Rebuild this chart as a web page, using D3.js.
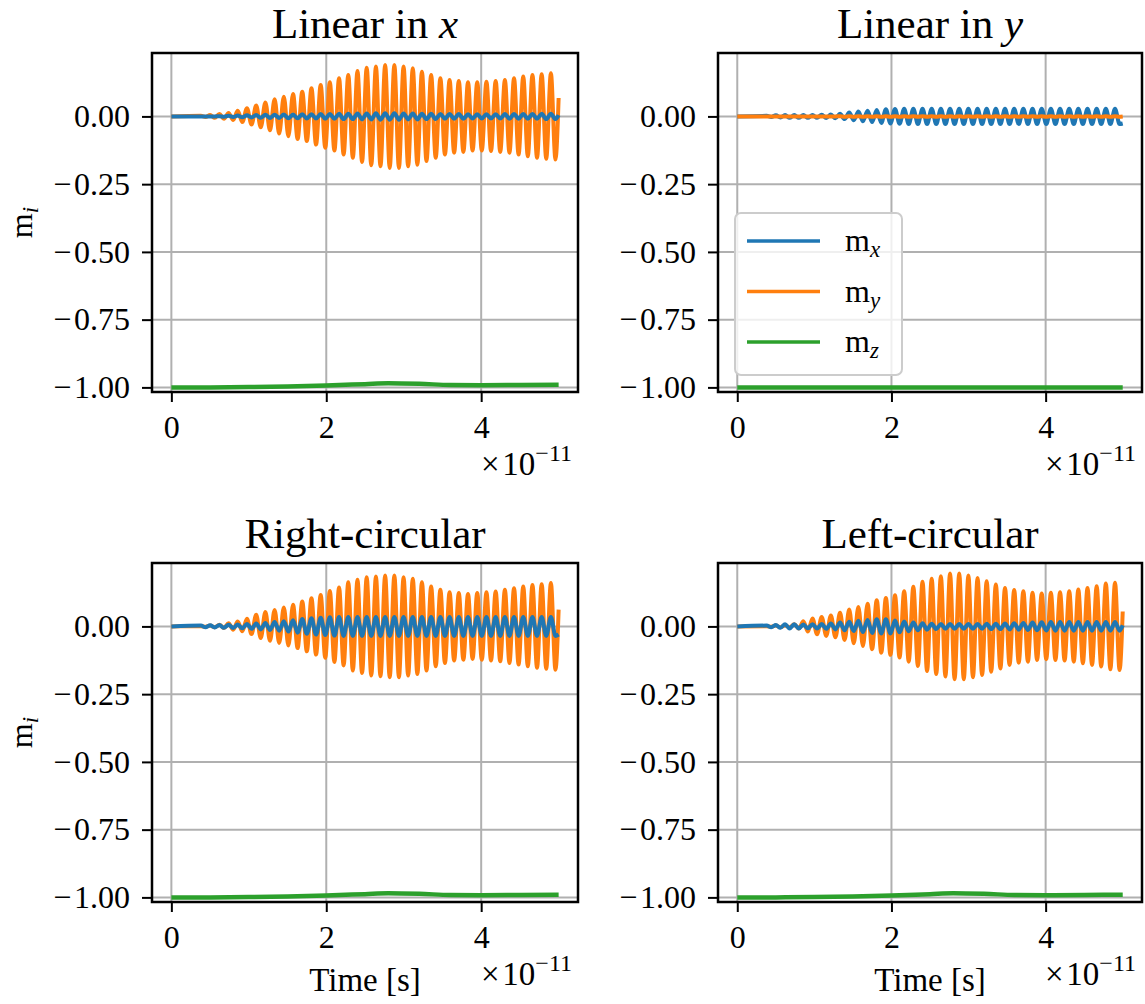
<!DOCTYPE html>
<html>
<head>
<meta charset="utf-8">
<script src="https://cdn.jsdelivr.net/npm/d3@7"></script>
<style>
  body { margin: 0; background: #fff; }
  svg text { font-family: "Liberation Serif", "DejaVu Serif", serif; fill: #000; }
</style>
</head>
<body>
<div id="chart"></div>
<script>
// Tick values (time in units of 1e-11 s)
const xTicks = [0, 2, 4];
const yTicks = [0, -0.25, -0.5, -0.75, -1];

// Times of the oscillation peaks and troughs (x 1e-11 s)
const peakTimes = [0.382, 0.501, 0.620, 0.739, 0.857, 0.976, 1.095, 1.214, 1.333, 1.452,
  1.571, 1.690, 1.809, 1.928, 2.046, 2.165, 2.284, 2.403, 2.522, 2.641,
  2.760, 2.879, 2.998, 3.117, 3.235, 3.354, 3.473, 3.592, 3.711, 3.830,
  3.949, 4.068, 4.187, 4.306, 4.424, 4.543, 4.662, 4.781, 4.900];
const troughTimes = [0.441, 0.560, 0.679, 0.798, 0.916, 1.035, 1.154, 1.273, 1.392, 1.511,
  1.630, 1.749, 1.868, 1.987, 2.105, 2.224, 2.343, 2.462, 2.581, 2.700,
  2.819, 2.938, 3.057, 3.176, 3.294, 3.413, 3.532, 3.651, 3.770, 3.889,
  4.008, 4.127, 4.246, 4.365, 4.483, 4.602, 4.721, 4.840, 4.959];
const endTime = 5.0;

// Amplitude of m_x / m_y at each peak, one array per panel
const mxLinX = [0.000, 0.000, 0.001, 0.002, 0.003, 0.004, 0.005, 0.006, 0.006, 0.007,
  0.007, 0.008, 0.008, 0.009, 0.009, 0.010, 0.010, 0.011, 0.011, 0.012,
  0.012, 0.012, 0.011, 0.011, 0.010, 0.010, 0.009, 0.009, 0.009, 0.008,
  0.008, 0.008, 0.008, 0.009, 0.009, 0.009, 0.009, 0.010, 0.010];
const myLinX = [0.002, 0.005, 0.009, 0.013, 0.021, 0.030, 0.040, 0.051, 0.063, 0.073,
  0.083, 0.091, 0.104, 0.116, 0.126, 0.141, 0.153, 0.168, 0.180, 0.184,
  0.190, 0.190, 0.184, 0.178, 0.165, 0.153, 0.141, 0.134, 0.131, 0.126,
  0.126, 0.128, 0.131, 0.134, 0.141, 0.147, 0.153, 0.156, 0.159];
const mxLinY = [0.002, 0.004, 0.005, 0.005, 0.005, 0.005, 0.006, 0.007, 0.010, 0.014,
  0.018, 0.021, 0.024, 0.026, 0.027, 0.028, 0.028, 0.028, 0.028, 0.028,
  0.028, 0.028, 0.028, 0.028, 0.028, 0.028, 0.028, 0.028, 0.028, 0.028,
  0.028, 0.028, 0.028, 0.028, 0.028, 0.028, 0.028, 0.028, 0.028];
const myLinY = [0.000, 0.000, 0.000, 0.000, 0.000, 0.000, 0.000, 0.000, 0.001, 0.001,
  0.001, 0.001, 0.001, 0.001, 0.001, 0.001, 0.001, 0.001, 0.001, 0.001,
  0.001, 0.001, 0.001, 0.001, 0.001, 0.001, 0.001, 0.001, 0.001, 0.001,
  0.001, 0.001, 0.001, 0.001, 0.001, 0.001, 0.001, 0.001, 0.001];
const mxRight = [0.003, 0.004, 0.005, 0.006, 0.007, 0.009, 0.011, 0.013, 0.016, 0.019,
  0.023, 0.027, 0.030, 0.032, 0.034, 0.035, 0.035, 0.035, 0.035, 0.035,
  0.035, 0.035, 0.035, 0.035, 0.035, 0.035, 0.035, 0.035, 0.035, 0.035,
  0.035, 0.035, 0.035, 0.035, 0.035, 0.035, 0.035, 0.035, 0.035];
const myRight = [0.001, 0.003, 0.006, 0.012, 0.018, 0.028, 0.043, 0.053, 0.061, 0.070,
  0.080, 0.092, 0.104, 0.116, 0.131, 0.144, 0.163, 0.172, 0.181, 0.184,
  0.188, 0.188, 0.181, 0.176, 0.163, 0.147, 0.135, 0.126, 0.123, 0.120,
  0.123, 0.126, 0.129, 0.135, 0.141, 0.147, 0.153, 0.156, 0.160];
const mxLeft = [0.003, 0.005, 0.008, 0.008, 0.007, 0.008, 0.009, 0.011, 0.014, 0.017,
  0.021, 0.024, 0.026, 0.026, 0.022, 0.018, 0.014, 0.012, 0.010, 0.009,
  0.009, 0.009, 0.009, 0.009, 0.010, 0.010, 0.011, 0.012, 0.013, 0.014,
  0.015, 0.016, 0.016, 0.016, 0.016, 0.016, 0.016, 0.016, 0.016];
const myLeft = [0.001, 0.003, 0.004, 0.008, 0.019, 0.029, 0.035, 0.040, 0.050, 0.062,
  0.072, 0.084, 0.097, 0.105, 0.115, 0.130, 0.146, 0.165, 0.176, 0.185,
  0.195, 0.195, 0.188, 0.179, 0.167, 0.155, 0.142, 0.134, 0.130, 0.124,
  0.121, 0.124, 0.126, 0.130, 0.136, 0.142, 0.148, 0.158, 0.161];

// Last sample of m_x / m_y at t = 5e-11 (per panel: [m_x, m_y])
const endLinX = [0.005, 0.068];
const endLinY = [-0.026, 0.000];
const endRight = [-0.030, 0.062];
const endLeft = [0.004, 0.055];

// m_z, read at a few times
const mzTimes = [0, 0.5, 1.0, 1.5, 2.0, 2.5, 2.8, 3.2, 3.6, 4.0, 4.5, 5.0];
const mzLinX = [-1.0, -1.0, -0.999, -0.997, -0.993, -0.988, -0.985, -0.987, -0.991, -0.992, -0.991, -0.990];
const mzLinY = [-1.0, -1.0, -1.0, -1.0, -1.0, -1.0, -1.0, -1.0, -1.0, -1.0, -1.0, -1.0];
const mzRight = [-1.0, -1.0, -0.999, -0.997, -0.993, -0.988, -0.985, -0.987, -0.991, -0.992, -0.991, -0.990];
const mzLeft = [-1.0, -1.0, -0.999, -0.997, -0.993, -0.988, -0.985, -0.987, -0.991, -0.992, -0.991, -0.990];

const colors = { mx: '#1f77b4', my: '#ff7f0e', mz: '#2ca02c' };
const fontFamily = '"Liberation Serif", "DejaVu Serif", serif';

const width = 1145;
const height = 1004;

const svg = d3.select('#chart')
    .append('svg')
    .attr('width', width)
    .attr('height', height);

const panels = [
  { title: ['Linear in ', 'x'], mx: mxLinX, my: myLinX, mz: mzLinX, end: endLinX, blueOnTop: true,
    x0: 152, x1: 578, y0: 53, y1: 392, ylabel: true, xlabel: false, legend: false },
  { title: ['Linear in ', 'y'], mx: mxLinY, my: myLinY, mz: mzLinY, end: endLinY, blueOnTop: false,
    x0: 718, x1: 1142, y0: 53, y1: 392, ylabel: false, xlabel: false, legend: true },
  { title: ['Right-circular', ''], mx: mxRight, my: myRight, mz: mzRight, end: endRight, blueOnTop: true,
    x0: 152, x1: 578, y0: 563, y1: 902, ylabel: true, xlabel: true, legend: false },
  { title: ['Left-circular', ''], mx: mxLeft, my: myLeft, mz: mzLeft, end: endLeft, blueOnTop: true,
    x0: 718, x1: 1142, y0: 563, y1: 902, ylabel: false, xlabel: true, legend: false }
];

// peak -> +amp, trough -> -amp
function oscillation(amp, endValue, sign) {
  const pts = [[0, 0]];
  amp.forEach(function(a, i) {
    pts.push([peakTimes[i], sign * a]);
    pts.push([troughTimes[i], -sign * a]);
  });
  pts.push([endTime, endValue]);
  return pts;
}

// slightly wider minus sign, closer to the TeX one
const yFormat = d => d3.format('.2f')(d).replace('\u2212', '\u2212\u200a');

panels.forEach(function(p) {
  const x = d3.scaleLinear().domain([-0.25, 5.25]).range([p.x0, p.x1]);
  const y = d3.scaleLinear().domain([-1.017, 0.234]).range([p.y1, p.y0]);
  const g = svg.append('g');

  // grid
  g.selectAll('.vgrid').data(xTicks).enter().append('line')
      .attr('x1', d => x(d)).attr('x2', d => x(d))
      .attr('y1', p.y0).attr('y2', p.y1)
      .attr('stroke', '#b0b0b0').attr('stroke-width', 2);
  g.selectAll('.hgrid').data(yTicks).enter().append('line')
      .attr('x1', p.x0).attr('x2', p.x1)
      .attr('y1', d => y(d)).attr('y2', d => y(d))
      .attr('stroke', '#b0b0b0').attr('stroke-width', 2);

  const line = d3.line()
      .x(d => x(d[0]))
      .y(d => y(d[1]))
      .curve(d3.curveMonotoneX);

  const drawMx = function() {
    g.append('path')
        .attr('d', line(oscillation(p.mx, p.end[0], 1)))
        .attr('fill', 'none').attr('stroke', colors.mx).attr('stroke-width', 4);
  };
  const drawMy = function() {
    g.append('path')
        .attr('d', line(oscillation(p.my, p.end[1], 1)))
        .attr('fill', 'none').attr('stroke', colors.my).attr('stroke-width', 4);
  };
  if (p.blueOnTop) { drawMy(); drawMx(); } else { drawMx(); drawMy(); }
  g.append('path')
      .attr('d', line(mzTimes.map((t, i) => [t, p.mz[i]])))
      .attr('fill', 'none').attr('stroke', colors.mz).attr('stroke-width', 4.5);

  // frame
  g.append('rect')
      .attr('x', p.x0).attr('y', p.y0)
      .attr('width', p.x1 - p.x0).attr('height', p.y1 - p.y0)
      .attr('fill', 'none').attr('stroke', '#000').attr('stroke-width', 2.5);

  // axes
  const xAxis = g.append('g')
      .attr('transform', 'translate(0,' + p.y1 + ')')
      .call(d3.axisBottom(x).tickValues(xTicks).tickSize(10).tickPadding(13)
          .tickFormat(d3.format('d')));
  const yAxis = g.append('g')
      .attr('transform', 'translate(' + p.x0 + ',0)')
      .call(d3.axisLeft(y).tickValues(yTicks).tickSize(10).tickPadding(12)
          .tickFormat(yFormat));
  [xAxis, yAxis].forEach(function(a) {
    a.select('.domain').remove();
    a.selectAll('.tick line').attr('stroke', '#000').attr('stroke-width', 2);
    a.selectAll('.tick text')
        .style('font-family', fontFamily)
        .style('font-size', '32px');
  });

  // offset text x10^-11
  const off = g.append('text')
      .attr('x', p.x1 - 6).attr('y', p.y1 + 83)
      .attr('text-anchor', 'end')
      .style('font-size', '33px');
  off.append('tspan').text('\u00d7\u200a10');
  off.append('tspan').attr('dy', -14).style('font-size', '24px').text('\u221211');

  // title
  const title = g.append('text')
      .attr('x', (p.x0 + p.x1) / 2).attr('y', p.y0 - 15)
      .attr('text-anchor', 'middle')
      .style('font-size', '43px');
  title.append('tspan').text(p.title[0]);
  if (p.title[1]) {
    title.append('tspan').style('font-style', 'italic').text(p.title[1]);
  }

  if (p.ylabel) {
    const yl = g.append('text')
        .attr('transform', 'translate(' + (p.x0 - 120) + ',' + ((p.y0 + p.y1) / 2) + ') rotate(-90)')
        .attr('text-anchor', 'middle')
        .style('font-size', '32px');
    yl.append('tspan').text('m');
    yl.append('tspan').attr('dy', 6).style('font-size', '23px')
        .style('font-style', 'italic').text('i');
  }

  if (p.xlabel) {
    g.append('text')
        .attr('x', (p.x0 + p.x1) / 2).attr('y', p.y1 + 89)
        .attr('text-anchor', 'middle')
        .style('font-size', '33px')
        .text('Time [s]');
  }

  if (p.legend) {
    const names = [['m', 'x', colors.mx], ['m', 'y', colors.my], ['m', 'z', colors.mz]];
    const lg = g.append('g').attr('transform', 'translate(' + (p.x0 + 17) + ',' + (p.y0 + 160) + ')');
    lg.append('rect')
        .attr('width', 167).attr('height', 162).attr('rx', 6)
        .attr('fill', '#fff').attr('fill-opacity', 0.8)
        .attr('stroke', '#cccccc').attr('stroke-width', 2);
    names.forEach(function(n, i) {
      const yy = 28 + i * 50.5;
      lg.append('line')
          .attr('x1', 12).attr('x2', 85).attr('y1', yy).attr('y2', yy)
          .attr('stroke', n[2]).attr('stroke-width', 3.5);
      const t = lg.append('text').attr('x', 110).attr('y', yy + 10).style('font-size', '32px');
      t.append('tspan').text(n[0]);
      t.append('tspan').attr('dy', 6).style('font-size', '23px')
          .style('font-style', 'italic').text(n[1]);
    });
  }
});
</script>
</body>
</html>
